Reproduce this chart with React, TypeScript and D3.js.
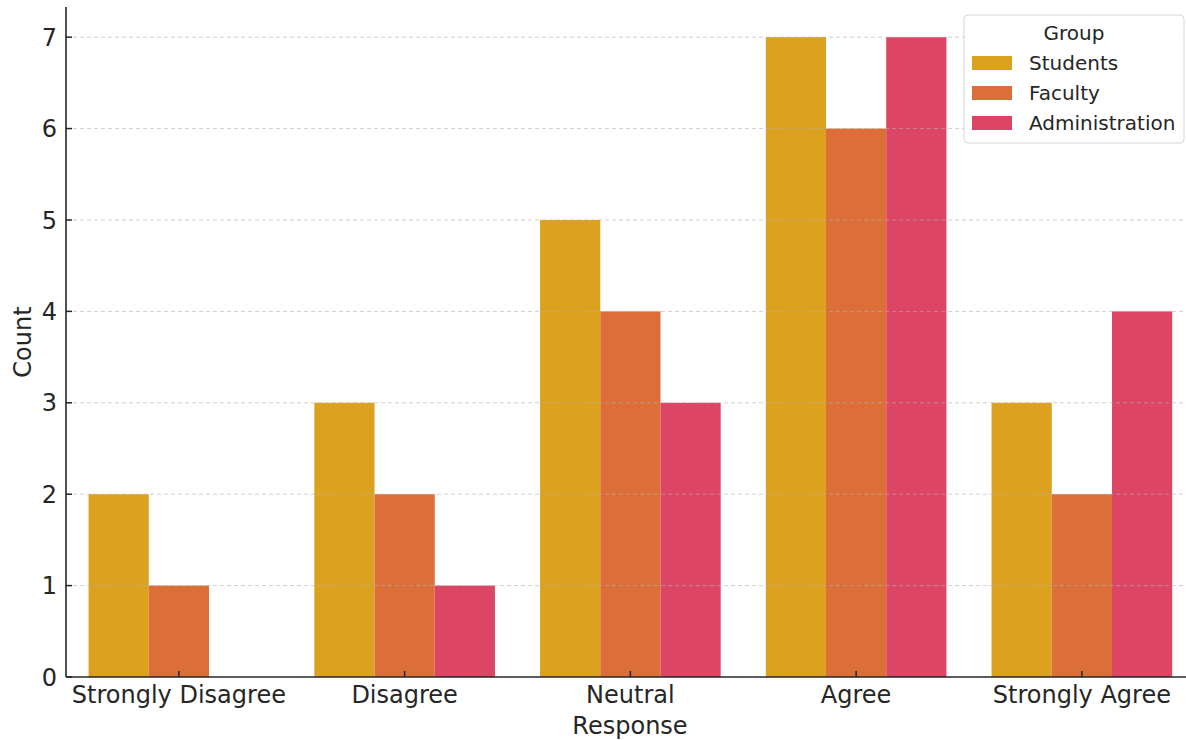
import React from "react";
import * as d3 from "d3";

const categories = ["Strongly Disagree", "Disagree", "Neutral", "Agree", "Strongly Agree"];
const groups = ["Students", "Faculty", "Administration"];
const students = [2, 3, 5, 7, 3];
const faculty = [1, 2, 4, 6, 2];
const administration = [0, 1, 3, 7, 4];
const yTicks = [0, 1, 2, 3, 4, 5, 6, 7];
const colors = ["#DCA21F", "#DC6E37", "#DC4564"];

const W = 1186, H = 740;
const left = 66, bottom = 677, top = 7;
const step = 225.75;
const right = left + step * categories.length;

export default function App() {
  const series = [students, faculty, administration];
  const x = d3.scaleBand<string>().domain(categories).range([left, right]).paddingInner(0).paddingOuter(0);
  const inner = d3.scaleBand<string>().domain(groups).range([0, x.bandwidth() * 0.8]);
  const y = d3.scaleLinear().domain([0, 7.33]).range([bottom, top]);
  const font = "'DejaVu Sans', sans-serif";
  const text = "#262626";
  return (
    <svg width={W} height={H} style={{ position: "absolute", left: 0, top: 0, background: "#fff" }} fontFamily={font}>
      {series.map((vals, si) =>
        vals.map((v, ci) => (
          <rect key={`${si}-${ci}`}
            x={x(categories[ci])! + x.bandwidth() * 0.1 + inner(groups[si])!}
            y={y(v)} width={inner.bandwidth()} height={y(0) - y(v)} fill={colors[si]} />
        ))
      )}
      {yTicks.filter(t => t > 0).map(t => (
        <line key={t} x1={left} x2={W} y1={y(t)} y2={y(t)} stroke="#b0b0b0" strokeOpacity={0.6} strokeDasharray="4,3" strokeWidth={1} />
      ))}
      {yTicks.map(t => (
        <g key={t}>
          <line x1={left} x2={left + 6} y1={y(t)} y2={y(t)} stroke={text} strokeWidth={1.5} />
          <text x={left - 9} y={y(t)} dy="0.36em" textAnchor="end" fontSize={24} fill={text}>{t}</text>
        </g>
      ))}
      {categories.map(c => (
        <g key={c}>
          <line x1={x(c)! + x.bandwidth() / 2} x2={x(c)! + x.bandwidth() / 2} y1={bottom} y2={bottom - 6} stroke={text} strokeWidth={1.5} />
          <text x={x(c)! + x.bandwidth() / 2} y={bottom + 26} textAnchor="middle" fontSize={24} fill={text}>{c}</text>
        </g>
      ))}
      <line x1={left} x2={left} y1={top} y2={bottom} stroke={text} strokeWidth={1.6} />
      <line x1={left} x2={W} y1={bottom} y2={bottom} stroke={text} strokeWidth={1.6} />
      <text x={630} y={734} textAnchor="middle" fontSize={24} fill={text}>Response</text>
      <text transform={`translate(31,${(top + bottom) / 2}) rotate(-90)`} textAnchor="middle" fontSize={24} fill={text}>Count</text>
      <g>
        <rect x={964} y={15} width={220} height={128} rx={4} fill="#fff" fillOpacity={0.85} stroke="#d6d6d6" strokeWidth={1} />
        <text x={1074} y={40} textAnchor="middle" fontSize={20} fill={text}>Group</text>
        {groups.map((g, i) => (
          <g key={g}>
            <rect x={972} y={56 + i * 30} width={40} height={14} fill={colors[i]} />
            <text x={1029} y={63 + i * 30} dy="0.36em" fontSize={20} fill={text}>{g}</text>
          </g>
        ))}
      </g>
    </svg>
  );
}
